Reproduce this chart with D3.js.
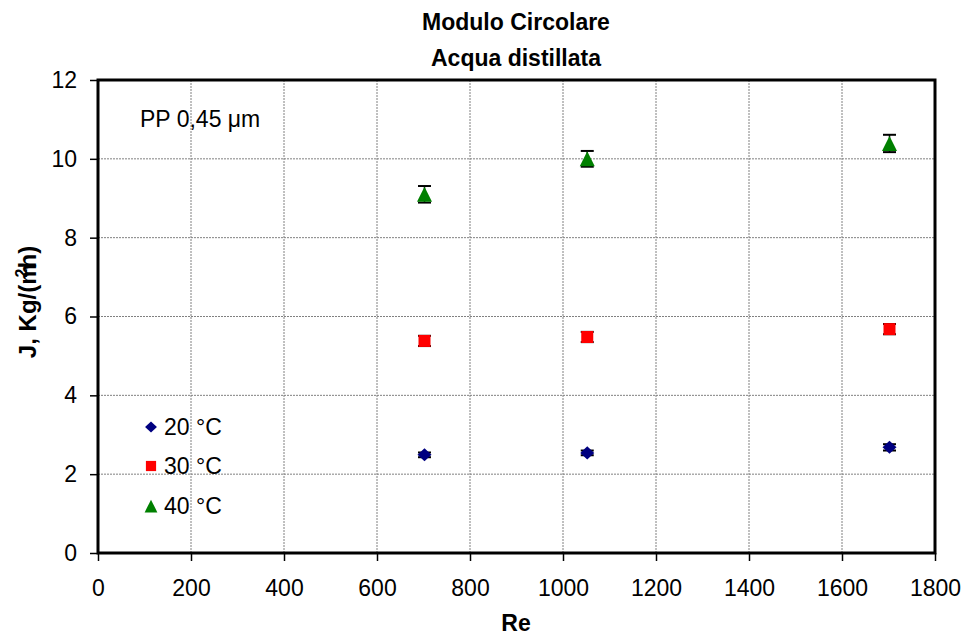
<!DOCTYPE html>
<html>
<head>
<meta charset="utf-8">
<script src="https://cdn.jsdelivr.net/npm/d3@7"></script>
<style>
  html, body { margin: 0; padding: 0; background: #fff; }
  svg { display: block; font-family: "Liberation Sans", Arial, sans-serif; }
</style>
</head>
<body>
<svg id="chart" width="966" height="635"></svg>
<script>
// Reynolds numbers tested
const reValues = [700, 1050, 1700];
// Permeate flux J (kg/m²h) and error for each feed temperature
const series20 = [2.49, 2.54, 2.68];
const error20 = [0.06, 0.06, 0.08];
const series30 = [5.38, 5.48, 5.68];
const error30 = [0.13, 0.13, 0.13];
const series40 = [9.10, 10.00, 10.39];
const error40 = [0.21, 0.20, 0.22];
const seriesNames = ["20 °C", "30 °C", "40 °C"];
const xTicks = [0, 200, 400, 600, 800, 1000, 1200, 1400, 1600, 1800];
const yTicks = [0, 2, 4, 6, 8, 10, 12];

const svg = d3.select("#chart");
const margin = { left: 98, top: 80, right: 31, bottom: 82 };
const W = 966, H = 635;
const FONT = "'Liberation Sans', Arial, sans-serif";

const x = d3.scaleLinear().domain([0, 1800]).range([margin.left, W - margin.right]);
const y = d3.scaleLinear().domain([0, 12]).range([H - margin.bottom, margin.top]);

// marker shapes: squat diamond, square, triangle (r = half-extent in px)
const diamond = { draw(ctx, r) { ctx.moveTo(0, -r * 0.93); ctx.lineTo(r, 0); ctx.lineTo(0, r * 0.93); ctx.lineTo(-r, 0); ctx.closePath(); } };
const square = { draw(ctx, r) { ctx.rect(-r, -r, 2 * r, 2 * r); } };
const triangle = { draw(ctx, r) { ctx.moveTo(0, -r); ctx.lineTo(r, r); ctx.lineTo(-r, r); ctx.closePath(); } };
const marker = (type, r) => d3.symbol().type(type).size(r);

// gridlines
const grid = svg.append("g");
grid.selectAll("line.v").data(xTicks.slice(1, -1)).enter().append("line")
  .attr("x1", d => x(d)).attr("x2", d => x(d))
  .attr("y1", y(0)).attr("y2", y(12))
  .attr("stroke", "#808080").attr("stroke-width", 1).attr("stroke-dasharray", "2,1");
grid.selectAll("line.h").data(yTicks.slice(1, -1)).enter().append("line")
  .attr("y1", d => y(d)).attr("y2", d => y(d))
  .attr("x1", x(0)).attr("x2", x(1800))
  .attr("stroke", "#808080").attr("stroke-width", 1).attr("stroke-dasharray", "2,1");

// axes
const xAxis = d3.axisBottom(x).tickValues(xTicks).tickSize(8).tickPadding(19).tickFormat(d3.format("d"));
const yAxis = d3.axisLeft(y).tickValues(yTicks).tickSize(8).tickPadding(13).tickFormat(d3.format("d"));
const gx = svg.append("g").attr("transform", `translate(0,${y(0)})`).call(xAxis);
const gy = svg.append("g").attr("transform", `translate(${x(0)},0)`).call(yAxis);
[gx, gy].forEach(g => {
  g.select(".domain").remove();
  g.selectAll(".tick line").attr("stroke", "#000").attr("stroke-width", 1.5);
  g.selectAll(".tick text").attr("fill", "#000").style("font-size", "23px")
    .style("font-family", FONT);
});

// plot frame
svg.append("rect")
  .attr("x", x(0)).attr("y", y(12))
  .attr("width", x(1800) - x(0)).attr("height", y(0) - y(12))
  .attr("fill", "none").attr("stroke", "#000").attr("stroke-width", 3);

// data series
const series = [
  { vals: series20, errs: error20, color: "#000080", symbol: diamond, r: 7 },
  { vals: series30, errs: error30, color: "#FF0000", symbol: square, r: 6 },
  { vals: series40, errs: error40, color: "#008000", symbol: triangle, r: 7.5 }
];

series.forEach(s => {
  const pts = reValues.map((r, i) => ({ r, v: s.vals[i], e: s.errs[i] }));
  const g = svg.append("g");
  // error bars
  const eb = g.selectAll("g.eb").data(pts).enter().append("g");
  eb.append("line")
    .attr("x1", d => x(d.r) + 1).attr("x2", d => x(d.r) + 1)
    .attr("y1", d => y(d.v - d.e)).attr("y2", d => y(d.v + d.e))
    .attr("stroke", "#000").attr("stroke-width", 1.5);
  [-1, 1].forEach(sg => {
    eb.append("line")
      .attr("x1", d => x(d.r) - 5.5).attr("x2", d => x(d.r) + 7.5)
      .attr("y1", d => y(d.v + sg * d.e)).attr("y2", d => y(d.v + sg * d.e))
      .attr("stroke", "#000").attr("stroke-width", 2);
  });
  // markers
  g.selectAll("path").data(pts).enter().append("path")
    .attr("d", marker(s.symbol, s.r))
    .attr("transform", d => `translate(${x(d.r) + 1},${y(d.v)})`)
    .attr("fill", s.color);
});

// legend
const legend = svg.append("g");
const legendY = [427, 466, 506];
series.forEach((s, i) => {
  const ly = legendY[i];
  legend.append("path")
    .attr("d", marker(s.symbol, s.r * 0.85))
    .attr("transform", `translate(151,${ly})`)
    .attr("fill", s.color);
  legend.append("text")
    .attr("x", 164).attr("y", ly + 8)
    .style("font-size", "23px").attr("fill", "#000")
    .text(seriesNames[i]);
});

// annotation
svg.append("text").attr("x", 140).attr("y", 127)
  .style("font-size", "23px").attr("fill", "#000")
  .text("PP 0,45 μm");

// titles
svg.append("text").attr("x", 516).attr("y", 30).attr("text-anchor", "middle")
  .style("font-size", "23px").style("font-weight", "bold").text("Modulo Circolare");
svg.append("text").attr("x", 516).attr("y", 66).attr("text-anchor", "middle")
  .style("font-size", "23px").style("font-weight", "bold").text("Acqua distillata");

// axis titles
svg.append("text").attr("x", 516).attr("y", 631).attr("text-anchor", "middle")
  .style("font-size", "23px").style("font-weight", "bold").text("Re");

const yt = svg.append("text")
  .attr("transform", `translate(36,302) rotate(-90)`)
  .attr("text-anchor", "middle")
  .style("font-size", "24px").style("font-weight", "bold");
yt.append("tspan").text("J, Kg/(m");
yt.append("tspan").attr("dy", -9).attr("dx", -14).style("font-size", "16px").text("2");
yt.append("tspan").attr("dy", 9).text("h)");
</script>
</body>
</html>
